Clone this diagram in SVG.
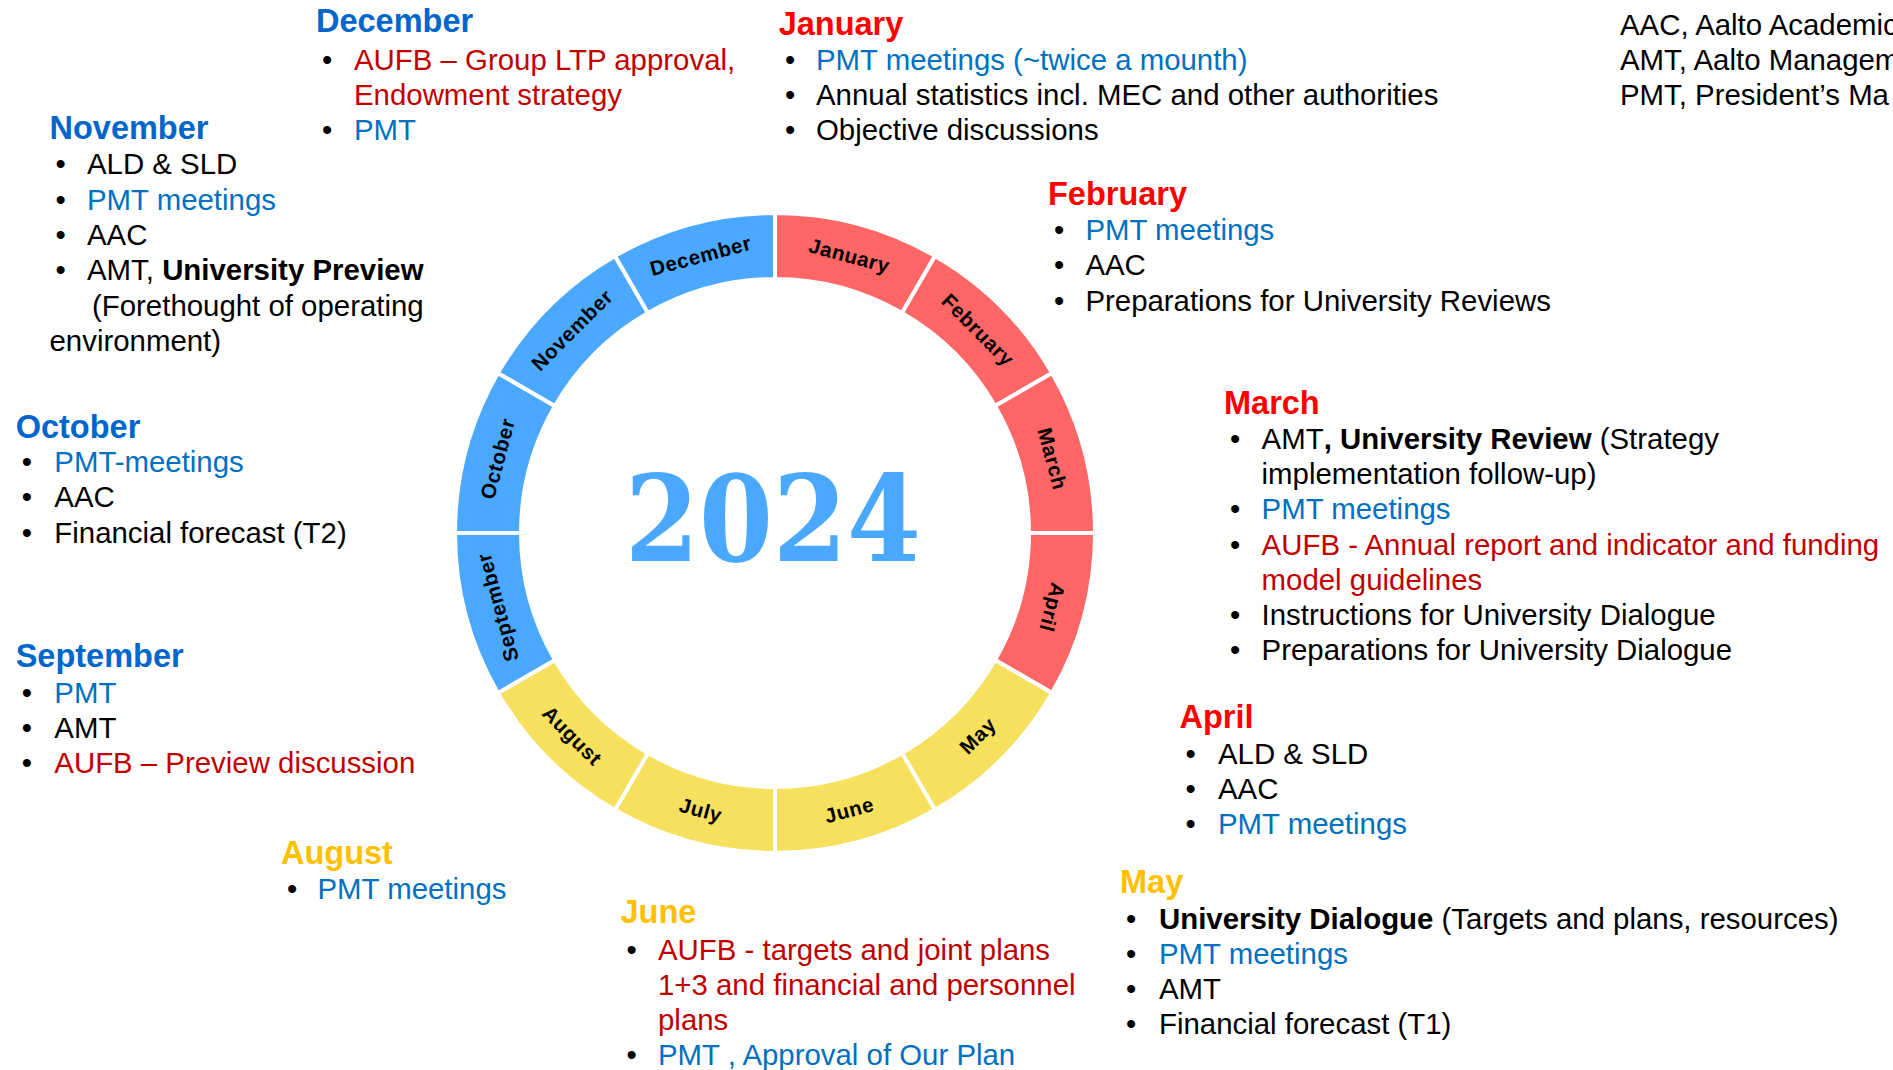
<svg xmlns="http://www.w3.org/2000/svg" width="1893" height="1070" viewBox="0 0 1893 1070">
<style>
text{font-family:"Liberation Sans",Arial,sans-serif}
.h{font-size:32.5px;font-weight:bold}
.t{font-size:29.4px;fill:#000}
.hb{fill:#0066CC}.hr{fill:#FF0000}.hy{fill:#FFC000}
.b{fill:#0070C0}.r{fill:#C00000}
.seg{stroke:#fff;stroke-width:4}
.sb{fill:#4AA8FF}.sr{fill:#FF6666}.sy{fill:#F6E05E}
.m{font-size:20.5px;font-weight:bold;fill:#000;text-anchor:middle;letter-spacing:0.6px}
.yr{font-family:"DejaVu Serif",serif;font-size:119px;font-weight:bold;fill:#4AA8FF;text-anchor:middle}
</style>
<rect width="1893" height="1070" fill="#fff"/>
<g id="ring">
<path class="seg sr" d="M775 213A320 320 0 0 1 935 255.9L902 313A254 254 0 0 0 775 279Z"/>
<path class="seg sr" d="M935 255.9A320 320 0 0 1 1052.1 373L995 406A254 254 0 0 0 902 313Z"/>
<path class="seg sr" d="M1052.1 373A320 320 0 0 1 1095 533L1029 533A254 254 0 0 0 995 406Z"/>
<path class="seg sr" d="M1095 533A320 320 0 0 1 1052.1 693L995 660A254 254 0 0 0 1029 533Z"/>
<path class="seg sy" d="M1052.1 693A320 320 0 0 1 935 810.1L902 753A254 254 0 0 0 995 660Z"/>
<path class="seg sy" d="M935 810.1A320 320 0 0 1 775 853L775 787A254 254 0 0 0 902 753Z"/>
<path class="seg sy" d="M775 853A320 320 0 0 1 615 810.1L648 753A254 254 0 0 0 775 787Z"/>
<path class="seg sy" d="M615 810.1A320 320 0 0 1 497.9 693L555 660A254 254 0 0 0 648 753Z"/>
<path class="seg sb" d="M497.9 693A320 320 0 0 1 455 533L521 533A254 254 0 0 0 555 660Z"/>
<path class="seg sb" d="M455 533A320 320 0 0 1 497.9 373L555 406A254 254 0 0 0 521 533Z"/>
<path class="seg sb" d="M497.9 373A320 320 0 0 1 615 255.9L648 313A254 254 0 0 0 555 406Z"/>
<path class="seg sb" d="M615 255.9A320 320 0 0 1 775 213L775 279A254 254 0 0 0 648 313Z"/>
<text class="m" transform="translate(849.3 255.8) rotate(15)" dy="7">January</text>
<text class="m" transform="translate(977.9 330.1) rotate(45)" dy="7">February</text>
<text class="m" transform="translate(1052.2 458.7) rotate(75)" dy="7">March</text>
<text class="m" transform="translate(1052.2 607.3) rotate(105)" dy="7">April</text>
<text class="m" transform="translate(977.9 735.9) rotate(-45)" dy="7">May</text>
<text class="m" transform="translate(849.3 810.2) rotate(-15)" dy="7">June</text>
<text class="m" transform="translate(700.7 810.2) rotate(15)" dy="7">July</text>
<text class="m" transform="translate(572.1 735.9) rotate(45)" dy="7">August</text>
<text class="m" transform="translate(497.8 607.3) rotate(-105)" dy="7">September</text>
<text class="m" transform="translate(497.8 458.7) rotate(-75)" dy="7">October</text>
<text class="m" transform="translate(572.1 330.1) rotate(-45)" dy="7">November</text>
<text class="m" transform="translate(700.7 255.8) rotate(-15)" dy="7">December</text>
<text class="yr" x="773" y="561" textLength="296" lengthAdjust="spacingAndGlyphs">2024</text>
</g>
<g id="connectors"/>
<g id="legend">
<text class="t" x="1620" y="34.5">AAC, Aalto Academic</text>
<text class="t" x="1620" y="69.5">AMT, Aalto Managem</text>
<text class="t" x="1620" y="104.5">PMT, President’s Ma</text>
</g>
<g id="december">
<text class="h hb" x="316" y="32">December</text>
<text class="t" x="322" y="69.5">•</text><text class="t r" x="354" y="69.5">AUFB – Group LTP approval,</text>
<text class="t r" x="354" y="104.5">Endowment strategy</text>
<text class="t" x="322" y="139.5">•</text><text class="t b" x="354" y="139.5">PMT</text>
</g>
<g id="november">
<text class="h hb" x="49.5" y="139">November</text>
<text class="t" x="55.5" y="174">•</text><text class="t" x="87" y="174">ALD &amp; SLD</text>
<text class="t" x="55.5" y="209.5">•</text><text class="t b" x="87" y="209.5">PMT meetings</text>
<text class="t" x="55.5" y="245">•</text><text class="t" x="87" y="245">AAC</text>
<text class="t" x="55.5" y="280">•</text><text class="t" x="87" y="280">AMT, <tspan font-weight="bold">University Preview</tspan></text>
<text class="t" x="92" y="315.5">(Forethought of operating</text>
<text class="t" x="49.5" y="351">environment)</text>
</g>
<g id="october">
<text class="h hb" x="15.7" y="437.5">October</text>
<text class="t" x="21.7" y="472">•</text><text class="t b" x="54.3" y="472">PMT-meetings</text>
<text class="t" x="21.7" y="507">•</text><text class="t" x="54.3" y="507">AAC</text>
<text class="t" x="21.7" y="543">•</text><text class="t" x="54.3" y="543">Financial forecast (T2)</text>
</g>
<g id="september">
<text class="h hb" x="15.7" y="667">September</text>
<text class="t" x="21.7" y="702.5">•</text><text class="t b" x="54.3" y="702.5">PMT</text>
<text class="t" x="21.7" y="737.5">•</text><text class="t" x="54.3" y="737.5">AMT</text>
<text class="t" x="21.7" y="772.5">•</text><text class="t r" x="54.3" y="772.5">AUFB – Preview discussion</text>
</g>
<g id="august">
<text class="h hy" x="281" y="863.5">August</text>
<text class="t" x="287" y="899">•</text><text class="t b" x="317.5" y="899">PMT meetings</text>
</g>
<g id="june">
<text class="h hy" x="620.5" y="923">June</text>
<text class="t" x="626.6" y="959.5">•</text><text class="t r" x="658" y="959.5">AUFB - targets and joint plans</text>
<text class="t r" x="658" y="994.5">1+3 and financial and personnel</text>
<text class="t r" x="658" y="1029.5">plans</text>
<text class="t" x="626.6" y="1064.5">•</text><text class="t b" x="658" y="1064.5">PMT , Approval of Our Plan</text>
</g>
<g id="may">
<text class="h hy" x="1120" y="892.5">May</text>
<text class="t" x="1126" y="929">•</text><text class="t" x="1159" y="929"><tspan font-weight="bold">University Dialogue</tspan> (Targets and plans, resources)</text>
<text class="t" x="1126" y="964">•</text><text class="t b" x="1159" y="964">PMT meetings</text>
<text class="t" x="1126" y="999">•</text><text class="t" x="1159" y="999">AMT</text>
<text class="t" x="1126" y="1034">•</text><text class="t" x="1159" y="1034">Financial forecast (T1)</text>
</g>
<g id="april">
<text class="h hr" x="1179.5" y="727.5">April</text>
<text class="t" x="1185.6" y="764">•</text><text class="t" x="1218" y="764">ALD &amp; SLD</text>
<text class="t" x="1185.6" y="799">•</text><text class="t" x="1218" y="799">AAC</text>
<text class="t" x="1185.6" y="834">•</text><text class="t b" x="1218" y="834">PMT meetings</text>
</g>
<g id="march">
<text class="h hr" x="1224" y="413.5">March</text>
<text class="t" x="1230" y="449">•</text><text class="t" x="1261.6" y="449">AMT<tspan font-weight="bold">, University Review</tspan> (Strategy</text>
<text class="t" x="1261.6" y="484">implementation follow-up)</text>
<text class="t" x="1230" y="519">•</text><text class="t b" x="1261.6" y="519">PMT meetings</text>
<text class="t" x="1230" y="555">•</text><text class="t r" x="1261.6" y="555">AUFB - Annual report and indicator and funding</text>
<text class="t r" x="1261.6" y="590">model guidelines</text>
<text class="t" x="1230" y="625">•</text><text class="t" x="1261.6" y="625">Instructions for University Dialogue</text>
<text class="t" x="1230" y="660">•</text><text class="t" x="1261.6" y="660">Preparations for University Dialogue</text>
</g>
<g id="february">
<text class="h hr" x="1048" y="204.5">February</text>
<text class="t" x="1054" y="240">•</text><text class="t b" x="1085.4" y="240">PMT meetings</text>
<text class="t" x="1054" y="275">•</text><text class="t" x="1085.4" y="275">AAC</text>
<text class="t" x="1054" y="311">•</text><text class="t" x="1085.4" y="311">Preparations for University Reviews</text>
</g>
<g id="january">
<text class="h hr" x="778.7" y="34.5">January</text>
<text class="t" x="785" y="70">•</text><text class="t b" x="816" y="70">PMT meetings (~twice a mounth)</text>
<text class="t" x="785" y="105">•</text><text class="t" x="816" y="105">Annual statistics incl. MEC and other authorities</text>
<text class="t" x="785" y="140">•</text><text class="t" x="816" y="140">Objective discussions</text>
</g>
</svg>
